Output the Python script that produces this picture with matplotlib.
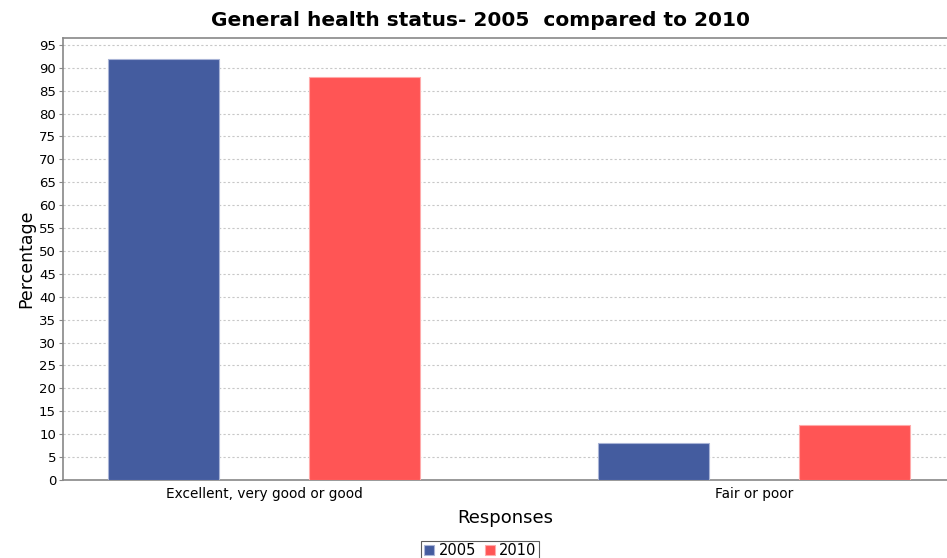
import numpy as np
import matplotlib.pyplot as plt

categories = ["Excellent, very good or good", "Fair or poor"]
years = ["2005", "2010"]
values_2005 = [92, 8]
values_2010 = [88, 12]

colors = ["#445C9F", "#FF5555"]
edges = ["#A9B4D6", "#FFAAAA"]

fig = plt.figure(figsize=(9.47, 5.58), dpi=100)
ax = fig.add_axes([0.0665, 0.1398, 0.9335, 0.7921])

x = np.arange(len(categories))
w = 0.226
off = 0.205
ax.bar(x - off, values_2005, w, color=colors[0], edgecolor=edges[0], linewidth=0.8,
       label=years[0], zorder=3)
ax.bar(x + off, values_2010, w, color=colors[1], edgecolor=edges[1], linewidth=0.8,
       label=years[1], zorder=3)

ax.set_xlim(-0.41, 1.394)
ax.set_ylim(0, 96.5)
ax.set_yticks(np.arange(0, 96, 5))
ax.set_xticks(x)
ax.set_xticklabels(categories, fontsize=9.8)
ax.tick_params(axis="x", length=0, pad=5)
ax.tick_params(axis="y", length=3, width=0.8, color="#888888", labelsize=9.5, pad=2)

ax.yaxis.grid(True, linestyle=(0, (2, 2)), color="#C8C8C8", linewidth=0.8, zorder=0)

for side in ["left", "bottom", "top"]:
    ax.spines[side].set_color("#888888")
    ax.spines[side].set_linewidth(1.2)
ax.spines["right"].set_visible(False)

ax.set_ylabel("Percentage", fontsize=12.5, labelpad=3)
ax.set_xlabel("Responses", fontsize=13, labelpad=6)
fig.suptitle("General health status- 2005  compared to 2010", fontsize=14.5,
             fontweight="bold", x=0.507, y=0.98)

leg = fig.legend(loc="lower center", bbox_to_anchor=(0.507, -0.006), ncol=2,
                 fontsize=10.5, frameon=True, fancybox=False, handlelength=0.7,
                 handleheight=0.7, handletextpad=0.3, columnspacing=0.6,
                 borderpad=0.2, borderaxespad=0.0)
leg.get_frame().set_edgecolor("#333333")
leg.get_frame().set_linewidth(0.8)

fig.savefig("out.png", dpi=100)
